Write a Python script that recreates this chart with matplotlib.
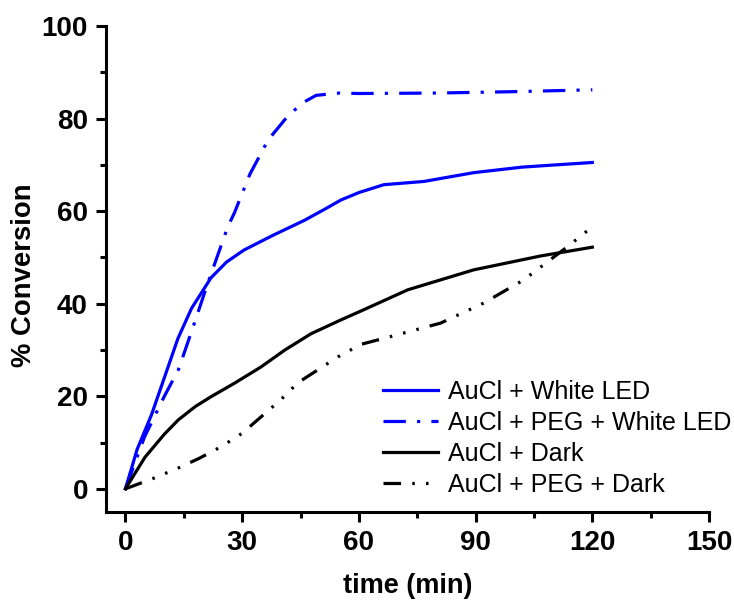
import matplotlib
matplotlib.use('Agg')
import matplotlib.pyplot as plt
from matplotlib.ticker import MultipleLocator

# data (time in min, % conversion)
t_led = [0, 3, 6.7, 10, 13.5, 17, 22, 26, 30.5, 38, 46, 51, 55.4, 60, 66.4, 76.7, 89.5, 102, 120]
y_led = [0, 8.5, 16, 24, 32.5, 39, 45.6, 49, 51.6, 54.8, 58, 60.3, 62.4, 64, 65.7, 66.4, 68.3, 69.5, 70.5]

t_peg_led = [0, 4.9, 10, 13.6, 17, 21.2, 26.3, 28, 32, 36.7, 42, 46, 49, 55, 60, 80, 100, 120]
y_peg_led = [0, 11.2, 20, 25.7, 34, 44.5, 56.6, 59.6, 68, 75.4, 80.8, 83.6, 85, 85.5, 85.4, 85.5, 85.8, 86.2]

t_dark = [0, 5, 10, 13.6, 18, 22, 28, 34.8, 41, 47.7, 55.4, 60.5, 72.6, 89.5, 106.7, 120]
y_dark = [0, 6.8, 11.8, 14.9, 17.8, 19.9, 22.8, 26.3, 30, 33.5, 36.5, 38.4, 43, 47.3, 50.3, 52.2]

t_peg_dark = [0, 7, 13.6, 19, 24.6, 30, 34.8, 40, 44.3, 50, 54.6, 60.5, 68.2, 81, 92, 102.3, 113.6, 120]
y_peg_dark = [0, 2.2, 4.5, 6.6, 9.1, 12, 15.5, 19.3, 22.9, 26, 28.5, 31.2, 32.9, 35.8, 40.1, 45.1, 52.3, 56.6]

labels = ['AuCl + White LED', 'AuCl + PEG + White LED', 'AuCl + Dark', 'AuCl + PEG + Dark']

plt.rcParams['font.family'] = ['Liberation Sans', 'DejaVu Sans']

fig = plt.figure(figsize=(7.34, 6.03), dpi=100)
ax = fig.add_axes([0.1444, 0.151, 0.8216, 0.806])

lw = 2.3
ax.plot(t_led, y_led, color='#0000ff', lw=lw, label=labels[0])
ax.plot(t_peg_led, y_peg_led, color='#0000ff', lw=lw,
        linestyle=(0, (7, 3.5, 1, 3.5)), label=labels[1])
ax.plot(t_dark, y_dark, color='black', lw=lw, label=labels[2])
ax.plot(t_peg_dark, y_peg_dark, color='black', lw=lw,
        linestyle=(0, (5.5, 3.5, 0.8, 3.5, 0.8, 3.5, 0.8, 3.5)), label=labels[3])

ax.set_xlim(-5, 150)
ax.set_ylim(-5, 100)
ax.xaxis.set_major_locator(MultipleLocator(30))
ax.xaxis.set_minor_locator(MultipleLocator(15))
ax.yaxis.set_major_locator(MultipleLocator(20))
ax.yaxis.set_minor_locator(MultipleLocator(10))

for s in ['top', 'right']:
    ax.spines[s].set_visible(False)
for s in ['left', 'bottom']:
    ax.spines[s].set_linewidth(2.2)
    ax.spines[s].set_capstyle('projecting')
ax.spines['left'].set_bounds(-5, 100)
ax.spines['bottom'].set_bounds(-5, 150)

ax.tick_params(which='major', direction='out', length=7, width=2.2, pad=6,
               labelsize=20)
ax.tick_params(which='minor', direction='out', length=4, width=2.2)
for lab in ax.get_xticklabels() + ax.get_yticklabels():
    lab.set_fontweight('bold')

ax.set_xlabel('time (min)', fontsize=19.5, fontweight='bold', labelpad=12)
ax.set_ylabel('% Conversion', fontsize=19.8, fontweight='bold')
ax.yaxis.set_label_coords(-0.114, 0.488)

ax.legend(loc='upper left', bbox_to_anchor=(383 / 734, 1 - 380 / 603),
          bbox_transform=fig.transFigure, frameon=False, fontsize=18,
          borderpad=0, borderaxespad=0, handlelength=2.2, handletextpad=0.4,
          labelspacing=0.28)

fig.savefig('out.png', dpi=100)
